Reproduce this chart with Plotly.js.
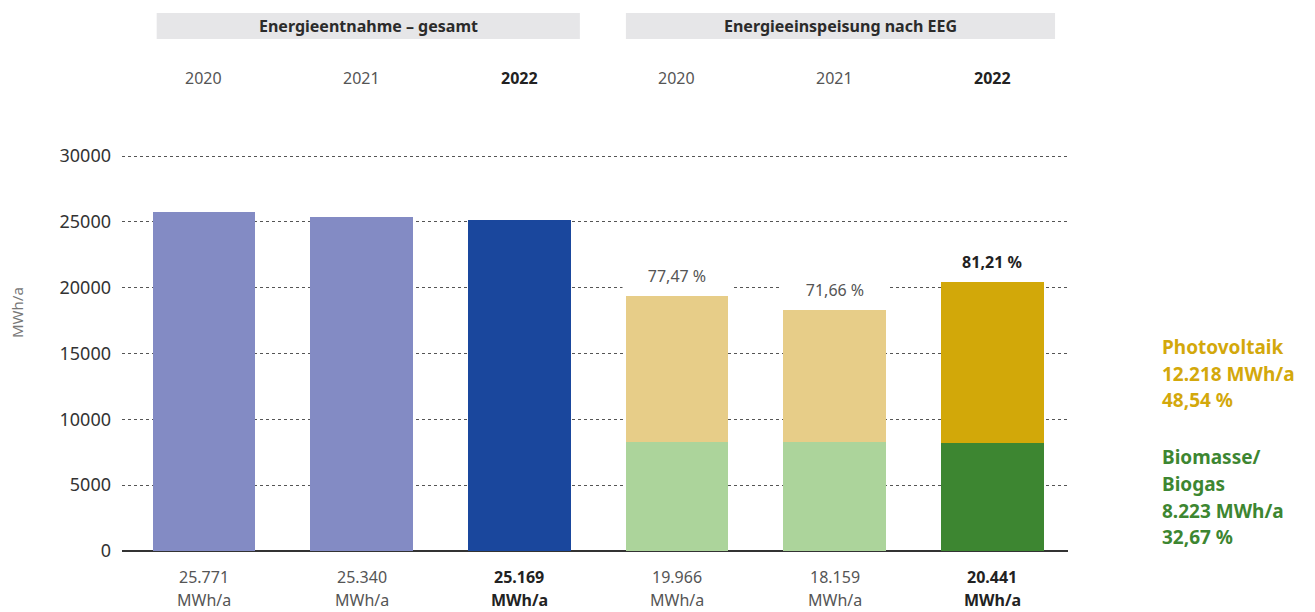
<!DOCTYPE html>
<html>
<head>
<meta charset="utf-8">
<script src="https://cdn.plot.ly/plotly-3.0.1.min.js"></script>
<style>
  html, body { margin: 0; padding: 0; background: #ffffff; }
  #chart { width: 1315px; height: 612px; }
</style>
</head>
<body>
<div id="chart"></div>
<script>
// ---- data ----
const groups = ['Energieentnahme – gesamt', 'Energieeinspeisung nach EEG'];
const years = ['2020', '2021', '2022'];
const entnahme = [25771, 25340, 25169];
const entnahmeLabels = ['25.771', '25.340', '25.169'];
const biomasse = [8300, 8300, 8223];
const photovoltaik = [11040, 9980, 12218];
const eegLabels = ['19.966', '18.159', '20.441'];
const eegShares = ['77,47 %', '71,66 %', '81,21 %'];
const unitLabel = 'MWh/a';
const legendPV = ['Photovoltaik', '12.218 MWh/a', '48,54 %'];
const legendBio = ['Biomasse/', 'Biogas', '8.223 MWh/a', '32,67 %'];
const yTicks = [0, 5000, 10000, 15000, 20000, 25000, 30000];

// ---- styles ----
const FONT = 'Noto Sans, sans-serif';
const entnahmeColors = ['#838bc4', '#838bc4', '#1a479d'];
const bioColors = ['#acd49b', '#acd49b', '#3d8631'];
const pvColors = ['#e7cd88', '#e7cd88', '#d2a809'];
const PV_TEXT = '#d3a80b';
const BIO_TEXT = '#3d8631';

const M_TOP = 155, M_BOT = 61, H = 612;
const plotH = H - M_TOP - M_BOT;
const py = px => (H - M_BOT - px) / plotH;   // pixel row -> paper y

const xEnt = years.map(y => groups[0] + ' ' + y);
const xEeg = years.map(y => groups[1] + ' ' + y);
const eegTotals = biomasse.map((b, i) => b + photovoltaik[i]);
const isLatest = i => i === years.length - 1;
const fmt = (t, i) => isLatest(i) ? '<b>' + t + '</b>' : t;

const traces = [
  { type: 'bar', x: xEnt, y: entnahme, marker: { color: entnahmeColors }, width: 0.65, hoverinfo: 'skip', showlegend: false },
  { type: 'bar', x: xEeg, y: biomasse, marker: { color: bioColors }, width: 0.65, hoverinfo: 'skip', showlegend: false },
  { type: 'bar', x: xEeg, y: photovoltaik, marker: { color: pvColors }, width: 0.65, hoverinfo: 'skip', showlegend: false }
];

const annotations = [];
const shapes = [];

// group header boxes
const groupSpans = [[-0.30, 2.384], [2.676, 5.398]];
groups.forEach((g, gi) => {
  shapes.push({ type: 'rect', xref: 'x', yref: 'paper', x0: groupSpans[gi][0], x1: groupSpans[gi][1],
    y0: py(39), y1: py(13), fillcolor: '#e6e6e8', line: { width: 0 }, layer: 'below' });
  annotations.push({ xref: 'x', yref: 'paper', x: (groupSpans[gi][0] + groupSpans[gi][1]) / 2, y: py(26),
    text: '<b>' + g + '</b>', showarrow: false, xanchor: 'center', yanchor: 'middle',
    font: { family: FONT, size: 16, color: '#2b2b2b' } });
});

// year labels + bottom value labels
[xEnt, xEeg].forEach((xs, gi) => {
  const labels = gi === 0 ? entnahmeLabels : eegLabels;
  xs.forEach((xk, i) => {
    const col = isLatest(i) ? '#222222' : '#555555';
    annotations.push({ xref: 'x', yref: 'paper', x: xk, y: py(78), text: fmt(years[i], i), showarrow: false,
      xanchor: 'center', yanchor: 'middle', font: { family: FONT, size: 16, color: col } });
    annotations.push({ xref: 'x', yref: 'y', x: xk, y: 0, yshift: -26, text: fmt(labels[i], i), showarrow: false,
      xanchor: 'center', yanchor: 'middle', font: { family: FONT, size: 16, color: col } });
    annotations.push({ xref: 'x', yref: 'y', x: xk, y: 0, yshift: -49, text: fmt(unitLabel, i), showarrow: false,
      xanchor: 'center', yanchor: 'middle', font: { family: FONT, size: 16, color: col } });
  });
});

// share labels above EEG bars
xEeg.forEach((xk, i) => {
  annotations.push({ xref: 'x', yref: 'y', x: xk, y: eegTotals[i], yshift: 20, text: fmt(eegShares[i], i),
    showarrow: false, xanchor: 'center', yanchor: 'middle', width: 106, height: 30, bgcolor: '#ffffff',
    font: { family: FONT, size: 16, color: isLatest(i) ? '#222222' : '#555555' } });
});

// right-side legend text
const pvY = [347, 374, 400];
const bioY = [457, 484, 511, 537];
legendPV.forEach((t, i) => annotations.push({ xref: 'paper', yref: 'paper', x: 1.097, y: py(pvY[i]),
  text: '<b>' + t + '</b>', showarrow: false, xanchor: 'left', yanchor: 'middle',
  font: { family: FONT, size: 19, color: PV_TEXT } }));
legendBio.forEach((t, i) => annotations.push({ xref: 'paper', yref: 'paper', x: 1.097, y: py(bioY[i]),
  text: '<b>' + t + '</b>', showarrow: false, xanchor: 'left', yanchor: 'middle',
  font: { family: FONT, size: 19, color: BIO_TEXT } }));

// y axis title
annotations.push({ xref: 'paper', yref: 'paper', x: -0.111, y: py(312), text: unitLabel, textangle: -90,
  showarrow: false, xanchor: 'center', yanchor: 'middle', font: { family: FONT, size: 15, color: '#777777' } });

const layout = {
  width: 1315, height: H,
  margin: { l: 122, r: 247, t: M_TOP, b: M_BOT, pad: 0 },
  paper_bgcolor: '#ffffff', plot_bgcolor: '#ffffff',
  barmode: 'stack', showlegend: false,
  font: { family: FONT },
  xaxis: { type: 'category', categoryorder: 'array', categoryarray: xEnt.concat(xEeg),
    range: [-0.52, 5.48], showticklabels: false, showgrid: false, zeroline: false, showline: false, ticks: '' },
  yaxis: { range: [0, 30080], tickvals: yTicks, tickformat: 'd', showgrid: true, gridcolor: '#555555',
    griddash: 'dot', gridwidth: 1, zeroline: true, zerolinecolor: '#333333', zerolinewidth: 2,
    showline: false, ticks: '', ticklabelstandoff: 10,
    tickfont: { family: FONT, size: 18, color: '#333333' } },
  shapes: shapes,
  annotations: annotations
};

Plotly.newPlot('chart', traces, layout, { displayModeBar: false, staticPlot: true });
</script>
</body>
</html>
